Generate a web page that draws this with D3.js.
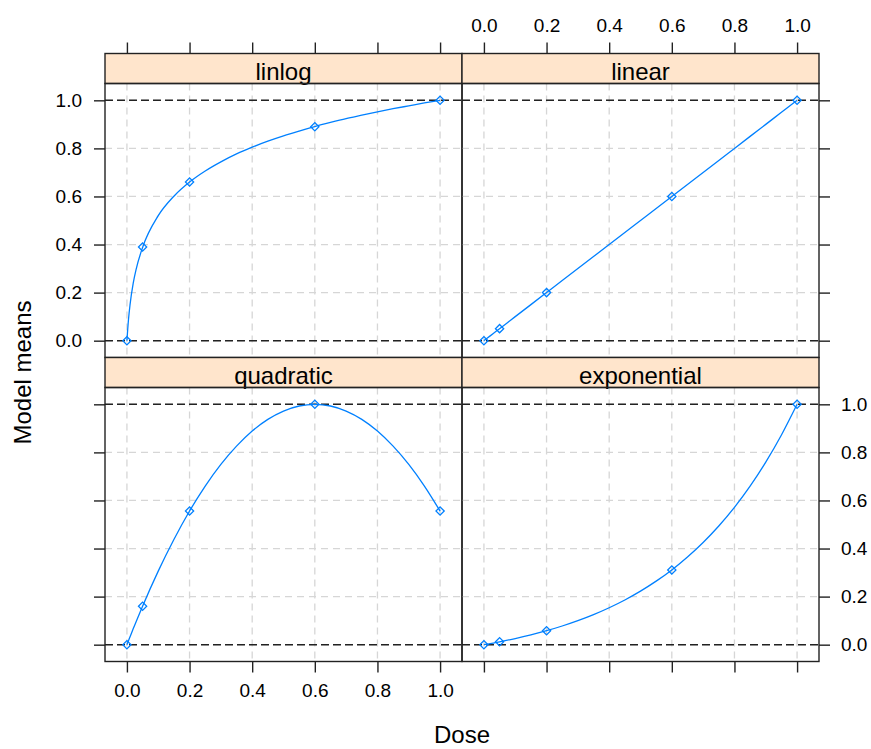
<!DOCTYPE html>
<html>
<head>
<meta charset="utf-8">
<script src="https://cdn.jsdelivr.net/npm/d3@7"></script>
<style>
  html, body { margin: 0; padding: 0; background: #fff; }
  svg text { font-family: "Liberation Sans", Arial, sans-serif; fill: #000; }
</style>
</head>
<body>
<svg id="chart" width="871" height="749"></svg>
<script>
// Candidate dose-response models, scaled to a maximum effect of 1
const models = ["linlog", "linear", "quadratic", "exponential"];
const doses = [0, 0.05, 0.2, 0.6, 1];
const tickValues = [0, 0.2, 0.4, 0.6, 0.8, 1.0];
const tickLabels = ["0.0", "0.2", "0.4", "0.6", "0.8", "1.0"];

// Model means at the study doses
const meansLinlog = [0, 0.39, 0.66, 0.89, 1.0];
const meansLinear = [0, 0.05, 0.2, 0.6, 1.0];
const meansQuadratic = [0, 0.16, 0.556, 1.0, 0.556];
const meansExponential = [0, 0.012, 0.058, 0.311, 1.0];

// Fitted curves on a finer dose grid
const curveDoses = [0, 0.005, 0.01, 0.02, 0.03, 0.05, 0.1, 0.15, 0.2, 0.25, 0.3, 0.35, 0.4, 0.45, 0.5,
                    0.55, 0.6, 0.65, 0.7, 0.75, 0.8, 0.85, 0.9, 0.95, 1.0];
const curveLinlog = [0, 0.088, 0.150, 0.238, 0.300, 0.388, 0.520, 0.601, 0.660, 0.706, 0.744, 0.777, 0.805,
                     0.830, 0.852, 0.872, 0.891, 0.908, 0.924, 0.938, 0.952, 0.965, 0.977, 0.989, 1.0];
const curveLinear = [0, 0.005, 0.01, 0.02, 0.03, 0.05, 0.1, 0.15, 0.2, 0.25, 0.3, 0.35, 0.4, 0.45, 0.5,
                     0.55, 0.6, 0.65, 0.7, 0.75, 0.8, 0.85, 0.9, 0.95, 1.0];
const curveQuadratic = [0, 0.0166, 0.033, 0.066, 0.0975, 0.160, 0.306, 0.4375, 0.556, 0.660, 0.750, 0.826, 0.889,
                        0.9375, 0.972, 0.993, 1.0, 0.993, 0.972, 0.9375, 0.889, 0.826, 0.750, 0.660, 0.556];
const curveExponential = [0, 0.0011, 0.0023, 0.0045, 0.0068, 0.0119, 0.0254, 0.0407, 0.058, 0.0777, 0.0999,
                          0.1251, 0.1537, 0.186, 0.2227, 0.2643, 0.311, 0.3648, 0.4253, 0.4938, 0.5714,
                          0.6595, 0.7592, 0.8722, 1.0];

const panelMeans = [meansLinlog, meansLinear, meansQuadratic, meansExponential];
const panelCurves = [curveLinlog, curveLinear, curveQuadratic, curveExponential];

const svg = d3.select("#chart");

// Layout of the 2x2 lattice
const colX = [105, 462];
const panelW = 357;
const rowTop = [53.5, 357.5];
const stripH = 30;
const panelH = 274;
const blue = "#0080ff";
const stripFill = "#ffe5cc";
const frame = "#222";

const pad = 0.07;
function makeX(c) {
  return d3.scaleLinear().domain([-pad, 1 + pad]).range([colX[c], colX[c] + panelW]);
}
function makeY(r) {
  const top = rowTop[r] + stripH;
  return d3.scaleLinear().domain([-pad, 1 + pad]).range([top + panelH, top]);
}

const fmt = d => tickLabels[tickValues.indexOf(d)];

models.forEach((name, i) => {
  const r = Math.floor(i / 2), c = i % 2;
  const x = makeX(c), y = makeY(r);
  const top = rowTop[r] + stripH;
  const g = svg.append("g");

  // background grid
  g.append("g").selectAll("line.v").data(tickValues).join("line")
    .attr("x1", d => x(d)).attr("x2", d => x(d))
    .attr("y1", top).attr("y2", top + panelH)
    .attr("stroke", "#d6d6d6").attr("stroke-width", 1.3).attr("stroke-dasharray", "7,5");
  g.append("g").selectAll("line.h").data(tickValues).join("line")
    .attr("x1", colX[c]).attr("x2", colX[c] + panelW)
    .attr("y1", d => y(d)).attr("y2", d => y(d))
    .attr("stroke", "#d6d6d6").attr("stroke-width", 1.3).attr("stroke-dasharray", "7,5");

  // reference lines at 0 and 1
  g.append("g").selectAll("line.ref").data([0, 1]).join("line")
    .attr("x1", colX[c]).attr("x2", colX[c] + panelW)
    .attr("y1", d => y(d)).attr("y2", d => y(d))
    .attr("stroke", "#222").attr("stroke-width", 1.5).attr("stroke-dasharray", "8,4");

  // model curve
  const line = d3.line().x(d => x(d[0])).y(d => y(d[1])).curve(d3.curveMonotoneX);
  g.append("path")
    .datum(curveDoses.map((d, k) => [d, panelCurves[i][k]]))
    .attr("d", line).attr("fill", "none").attr("stroke", blue).attr("stroke-width", 1.3);

  // means at doses (open diamonds)
  const sym = d3.symbol().type(d3.symbolSquare).size(34);
  g.append("g").selectAll("path.pt").data(doses.map((d, k) => [d, panelMeans[i][k]])).join("path")
    .attr("d", sym())
    .attr("transform", d => `translate(${x(d[0])},${y(d[1])}) rotate(45)`)
    .attr("fill", "none").attr("stroke", blue).attr("stroke-width", 1.3);

  // strip
  g.append("rect").attr("x", colX[c]).attr("y", rowTop[r]).attr("width", panelW).attr("height", stripH)
    .attr("fill", stripFill).attr("stroke", frame).attr("stroke-width", 1.4);
  g.append("text").attr("x", colX[c] + panelW / 2).attr("y", rowTop[r] + stripH - 3.5)
    .attr("text-anchor", "middle").attr("font-size", 24).text(name);

  // panel frame
  g.append("rect").attr("x", colX[c]).attr("y", top).attr("width", panelW).attr("height", panelH)
    .attr("fill", "none").attr("stroke", frame).attr("stroke-width", 1.4);

  // axes: labels alternate between sides as in a lattice layout
  const tickLen = 11;
  const styleAxis = (sel, showLabels) => {
    sel.select(".domain").remove();
    sel.selectAll(".tick line").attr("stroke", frame).attr("stroke-width", 1.4);
    sel.selectAll(".tick text").attr("font-size", 19).attr("fill", "#000")
      .style("font-family", '"Liberation Sans", Arial, sans-serif')
      .style("display", showLabels ? null : "none");
  };

  if (r === 0) {
    const a = d3.axisTop(x).tickValues(tickValues).tickFormat(fmt).tickSize(tickLen).tickPadding(11);
    g.append("g").attr("transform", `translate(0,${rowTop[0]})`).call(a).call(s => styleAxis(s, c === 1));
  } else {
    const a = d3.axisBottom(x).tickValues(tickValues).tickFormat(fmt).tickSize(tickLen).tickPadding(11);
    g.append("g").attr("transform", `translate(0,${top + panelH})`).call(a).call(s => styleAxis(s, c === 0));
  }
  if (c === 0) {
    const a = d3.axisLeft(y).tickValues(tickValues).tickFormat(fmt).tickSize(tickLen).tickPadding(12);
    g.append("g").attr("transform", `translate(${colX[0]},0)`).call(a).call(s => styleAxis(s, r === 0));
  } else {
    const a = d3.axisRight(y).tickValues(tickValues).tickFormat(fmt).tickSize(tickLen).tickPadding(11);
    g.append("g").attr("transform", `translate(${colX[1] + panelW},0)`).call(a).call(s => styleAxis(s, r === 1));
  }
});

// axis titles
svg.append("text").attr("x", (colX[0] + colX[1] + panelW) / 2).attr("y", 743)
  .attr("text-anchor", "middle").attr("font-size", 24).text("Dose");
svg.append("text")
  .attr("transform", `translate(31,${(rowTop[0] + stripH + rowTop[1] + stripH + panelH) / 2}) rotate(-90)`)
  .attr("text-anchor", "middle").attr("font-size", 24).text("Model means");
</script>
</body>
</html>
